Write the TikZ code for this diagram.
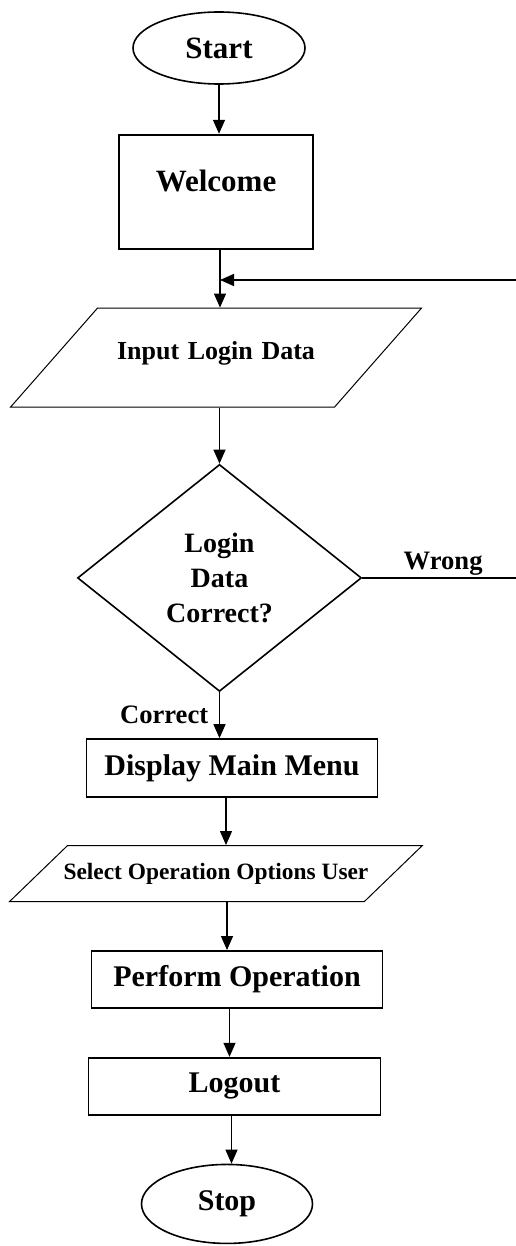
\documentclass[tikz,border=0pt]{standalone}
\usepackage{fontspec}
\setmainfont{Liberation Serif}
\usetikzlibrary{arrows.meta,positioning,shapes.geometric}

\begin{document}
\begin{tikzpicture}[
  >={Triangle[length=7pt,width=6pt]}, line width=0.65pt,
  term/.style={ellipse, draw, line width=0.8pt, inner sep=0pt, minimum width=86pt, minimum height=36pt, font=\bfseries\fontsize{15.5}{18}\selectfont},
  proc/.style={rectangle, draw, line width=0.9pt, inner sep=0pt, minimum width=145.5pt, minimum height=28.5pt, font=\bfseries\fontsize{15}{18}\selectfont},
  io/.style={trapezium, draw, line width=0.5pt, inner sep=0pt, align=center},
  decision/.style={diamond, draw, line width=0.8pt, inner sep=0pt, align=center, font=\bfseries\fontsize{14}{17.5}\selectfont},
  lab/.style={font=\bfseries\fontsize{13.3}{16}\selectfont}
]
\useasboundingbox (0,0) rectangle (257.5pt,-623pt);

\node[term] (start) at (109.5pt,-24pt) {Start};
\node[proc, minimum width=97pt, minimum height=57pt, text height=10pt, text depth=10pt, font=\bfseries\fontsize{15.5}{18}\selectfont, below=24.5pt of start, xshift=-1.5pt] (welcome) {Welcome};
\node[io, trapezium left angle=48.7, trapezium right angle=131.3, text width=118.5pt, text height=25.5pt, text depth=24pt, font=\bfseries\fontsize{13}{16}\selectfont, below=29pt of welcome] (input) {Input Login Data};
\node[decision, minimum width=142pt, minimum height=113.5pt, below=28pt of input, xshift=1.75pt] (check) {Login\\Data\\Correct?};
\node[proc, minimum height=29pt, below=23pt of check, xshift=6.25pt] (menu) {Display Main Menu};
\node[io, trapezium left angle=44, trapezium right angle=136, inner xsep=-2pt, text height=17pt, text depth=11pt, font=\bfseries\fontsize{11.7}{14}\selectfont, below=23.5pt of menu, xshift=-8pt] (select) {Select Operation Options User};
\node[proc, below=24pt of select, xshift=10.5pt] (perform) {Perform Operation};
\node[proc, minimum width=146pt, below=24pt of perform, xshift=-1.25pt] (logout) {Logout};
\node[term, minimum width=85.5pt, minimum height=39.5pt, font=\bfseries\fontsize{15}{18}\selectfont, below=24pt of logout, xshift=-3.75pt] (stop) {Stop};

% loop back for wrong login data
\coordinate (join) at (110pt,-140pt);
\coordinate (edge) at (262pt,-140pt);

\draw[->] (start.south) -- (start.south |- welcome.north);
\draw[->] (join |- welcome.south) -- (join |- input.north);
\draw[->] (check.north |- input.south) -- (check.north);
\draw[->] (check.east) -- node[lab, above, inner sep=1pt]{Wrong} (check.east -| edge) -- (edge) -- (join);
\draw[->] (check.south) -- node[lab, left, xshift=-2pt]{Correct} (check.south |- menu.north);
\draw[->] ([xshift=-3pt]menu.south) -- ([xshift=-3pt]menu.south |- select.north);
\draw[->] ([xshift=-5pt]perform.north |- select.south) -- ([xshift=-5pt]perform.north);
\draw[->] ([xshift=-3.75pt]perform.south) -- ([xshift=-3.75pt]perform.south |- logout.north);
\draw[->] ([xshift=-1.5pt]logout.south) -- ([xshift=-1.5pt]logout.south |- stop.north);
\end{tikzpicture}
\end{document}
